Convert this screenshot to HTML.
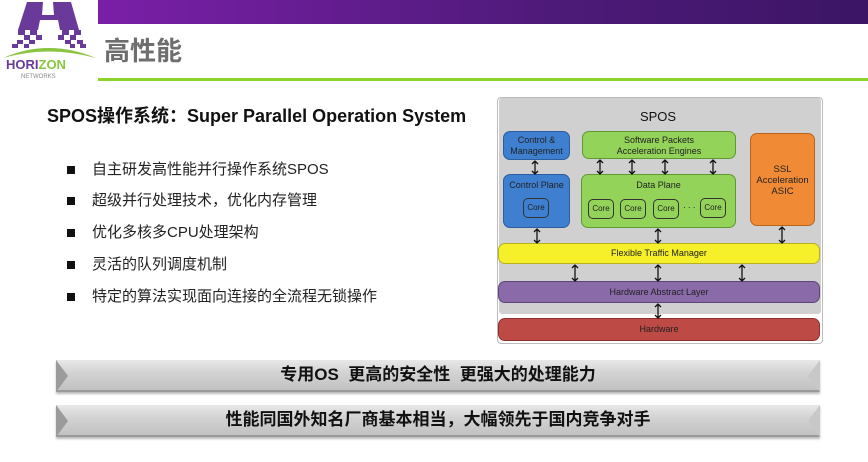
<!DOCTYPE html>
<html><head><meta charset="utf-8"><style>
*{margin:0;padding:0;box-sizing:border-box}
body{width:868px;height:462px;background:#fff;position:relative;overflow:hidden;font-family:"Liberation Sans","Noto Sans CJK SC",sans-serif}
.a{position:absolute}
.bul{position:absolute;left:92px;font-size:15px;color:#222;line-height:18px}
.sq{position:absolute;left:67px;width:8px;height:8px;background:#111}
.box{position:absolute;border-radius:7px;text-align:center;font-size:9px;color:#222;line-height:11px}
.core{position:absolute;width:26px;height:20px;border:1.5px solid #333;border-radius:5px;font-size:8px;line-height:17px;text-align:center;color:#222}
.bar{position:absolute;left:56px;width:764px;height:32px;background:linear-gradient(#e8e8e8,#d4d4d4 40%,#c2c2c2);border-bottom:2px solid #9a9a9a;box-shadow:0 2px 2px #bbb;font-weight:bold;font-size:17px;text-align:center;line-height:30px;color:#111}
.bar:before{content:"";position:absolute;left:0;top:0;border-left:12px solid #9b9b9b;border-top:16px solid transparent;border-bottom:16px solid transparent}
.bar:after{content:"";position:absolute;right:0;top:0;border-right:12px solid #c8c8c8;border-top:16px solid transparent;border-bottom:16px solid transparent}
</style></head><body>
<div class="a" style="left:98px;top:0;width:770px;height:24px;background:linear-gradient(90deg,#7a1fa8,#4d1a78 60%,#3c1565)"></div>
<div class="a" style="left:98px;top:78px;width:770px;height:3px;background:#8bd42a"></div>
<div class="a" style="left:104px;top:31px;font-size:26px;font-weight:bold;color:#6e6e6e">高性能</div>
<svg class="a" style="left:0;top:0" width="98" height="82">
<polygon points="27,2 43,2 42,15 54,15 53,2 71,2 79,30 60,30 58,20 40,20 38,30 18,30" fill="#6a3a9a"/>
<g fill="#6a3a9a"><rect x="18" y="30" width="7" height="5"/><rect x="30" y="30" width="7" height="5"/><rect x="62" y="30" width="7" height="5"/><rect x="74" y="30" width="7" height="5"/>
<rect x="24" y="35" width="6" height="5"/><rect x="36" y="35" width="6" height="5"/><rect x="58" y="35" width="6" height="5"/><rect x="70" y="35" width="6" height="5"/>
<rect x="17" y="40" width="6" height="4"/><rect x="29" y="40" width="6" height="4"/><rect x="65" y="40" width="6" height="4"/><rect x="77" y="40" width="6" height="4"/>
<rect x="12" y="44" width="6" height="4"/><rect x="24" y="44" width="5" height="4"/><rect x="70" y="44" width="5" height="4"/><rect x="80" y="44" width="6" height="4"/></g>
<path d="M3,58 Q48,38 96,58 Q48,45 3,58Z" fill="#8bc53f"/>
<text x="6" y="69" font-size="13" font-weight="bold" font-family="Liberation Sans"><tspan fill="#6a3a9a">HORI</tspan><tspan fill="#8bc53f">ZON</tspan></text>
<text x="21" y="78" font-size="6" fill="#888" font-family="Liberation Sans">NETWORKS</text>
</svg>
<div class="a" style="left:47px;top:102px;font-size:18px;font-weight:bold;color:#111;white-space:nowrap">SPOS操作系统：Super Parallel Operation System</div>
<div class="sq" style="top:166px"></div><div class="bul" style="top:161px">自主研发高性能并行操作系统SPOS</div>
<div class="sq" style="top:197px"></div><div class="bul" style="top:192px">超级并行处理技术，优化内存管理</div>
<div class="sq" style="top:229px"></div><div class="bul" style="top:224px">优化多核多CPU处理架构</div>
<div class="sq" style="top:261px"></div><div class="bul" style="top:256px">灵活的队列调度机制</div>
<div class="sq" style="top:293px"></div><div class="bul" style="top:288px">特定的算法实现面向连接的全流程无锁操作</div>
<div class="a" style="left:497px;top:97px;width:326px;height:247px;border:1px solid #bbb;border-radius:4px;background:#fff"></div>
<div class="a" style="left:499px;top:98px;width:322px;height:216px;background:#d0d0d0;border-radius:3px"></div>
<div class="a" style="left:620px;top:109px;width:76px;text-align:center;font-size:13px;color:#111">SPOS</div>
<div class="box" style="left:503px;top:131px;width:67px;height:29px;background:#3f7fd0;border:1px solid #2c5d9e;padding-top:3px">Control &amp;<br>Management</div>
<div class="box" style="left:582px;top:131px;width:154px;height:28px;background:#93d35a;border:1px solid #5f9a30;padding-top:3px">Software Packets<br>Acceleration Engines</div>
<div class="box" style="left:750px;top:133px;width:65px;height:93px;background:#f08a34;border:1px solid #b8641e;padding-top:30px;font-size:9.5px;line-height:11px">SSL<br>Acceleration<br>ASIC</div>
<div class="box" style="left:503px;top:174px;width:67px;height:54px;background:#3f7fd0;border:1px solid #2c5d9e;padding-top:5px">Control Plane</div>
<div class="core" style="left:523px;top:198px;background:#3f7fd0">Core</div>
<div class="box" style="left:581px;top:174px;width:155px;height:54px;background:#93d35a;border:1px solid #5f9a30;padding-top:5px">Data Plane</div>
<div class="core" style="left:588px;top:199px">Core</div>
<div class="core" style="left:620px;top:199px">Core</div>
<div class="core" style="left:653px;top:199px">Core</div>
<div class="a" style="left:683px;top:203px;font-size:8px">· · ·</div>
<div class="core" style="left:700px;top:198px">Core</div>
<div class="box" style="left:498px;top:243px;width:322px;height:21px;background:#f5f02a;border:1px solid #b8b020;line-height:19px;font-size:9px">Flexible Traffic Manager</div>
<div class="box" style="left:498px;top:281px;width:322px;height:22px;background:#8a6aa8;border:1px solid #5e4578;line-height:20px;font-size:9px">Hardware Abstract Layer</div>
<div class="box" style="left:498px;top:318px;width:322px;height:23px;background:#bd4a45;border:1px solid #8a302c;line-height:21px;font-size:9px">Hardware</div>
<svg class="a" style="left:0;top:0" width="868" height="462">
<g stroke="#111" stroke-width="1.3" fill="none">
<path d="M535,161 v13 M532,164 l3,-3 3,3 M532,171 l3,3 3,-3"/>
<path d="M600,160 v14 M597,163 l3,-3 3,3 M597,171 l3,3 3,-3"/>
<path d="M632,160 v14 M629,163 l3,-3 3,3 M629,171 l3,3 3,-3"/>
<path d="M665,160 v14 M662,163 l3,-3 3,3 M662,171 l3,3 3,-3"/>
<path d="M713,160 v14 M710,163 l3,-3 3,3 M710,171 l3,3 3,-3"/>
<path d="M537,229 v14 M534,232 l3,-3 3,3 M534,240 l3,3 3,-3"/>
<path d="M658,229 v14 M655,232 l3,-3 3,3 M655,240 l3,3 3,-3"/>
<path d="M782,227 v16 M779,230 l3,-3 3,3 M779,240 l3,3 3,-3"/>
<path d="M575,265 v16 M572,268 l3,-3 3,3 M572,278 l3,3 3,-3"/>
<path d="M658,265 v16 M655,268 l3,-3 3,3 M655,278 l3,3 3,-3"/>
<path d="M742,265 v16 M739,268 l3,-3 3,3 M739,278 l3,3 3,-3"/>
<path d="M658,304 v14 M655,307 l3,-3 3,3 M655,315 l3,3 3,-3"/>
</g></svg>
<div class="bar" style="top:360px">专用OS&nbsp; 更高的安全性&nbsp; 更强大的处理能力</div>
<div class="bar" style="top:405px">性能同国外知名厂商基本相当，大幅领先于国内竞争对手</div>
</body></html>
